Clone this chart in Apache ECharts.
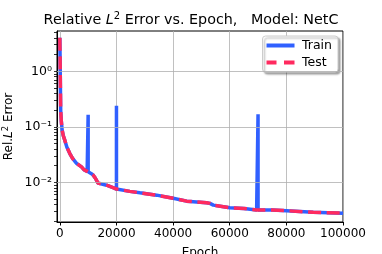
<!DOCTYPE html>
<html><head><meta charset="utf-8">
<script src="https://cdn.jsdelivr.net/npm/echarts@6/dist/echarts.min.js"></script>
<style>html,body{margin:0;padding:0;background:#fff}#c{width:382px;height:254px}</style>
</head><body><div id="c"></div>
<script>
const epochs = [0,100,200,300,500,820,1200,1770,2500,3530,4500,5900,6470,7650,8500,9650,9990,10000,10010,11000,11800,12500,13500,16500,19000,19990,20000,20010,24700,28300,34200,40000,44800,51800,53000,54200,60000,65000,69500,69990,70000,70010,75000,80000,89500,100000];
const trainLoss = [4.0,1.6,0.55,0.2,0.13,0.087,0.07,0.057,0.043,0.033,0.027,0.022,0.021,0.019,0.017,0.0158,0.0155,0.165,0.0155,0.0145,0.0135,0.012,0.0097,0.0089,0.0080,0.0076,0.24,0.0076,0.0069,0.0065,0.0059,0.0052,0.0046,0.0043,0.0042,0.0039,0.0035,0.0034,0.0032,0.0032,0.168,0.0032,0.0032,0.0031,0.0029,0.0028];
const testLoss = [4.0,1.6,0.55,0.2,0.13,0.087,0.07,0.057,0.043,0.033,0.027,0.022,0.021,0.019,0.017,0.0158,0.0155,0.0155,0.0155,0.0145,0.0135,0.012,0.0097,0.0089,0.0080,0.0076,0.0076,0.0076,0.0069,0.0065,0.0059,0.0052,0.0046,0.0043,0.0042,0.0039,0.0035,0.0034,0.0032,0.0032,0.0032,0.0032,0.0032,0.0031,0.0029,0.0028];
const xTicks = [0,20000,40000,60000,80000,100000];
const yTicks = [0.01,0.1,1];
const yTickLabels = ['10\u207B\u00B2','10\u207B\u00B9','10\u2070'];
const yMinorTicks = [0.002,0.003,0.004,0.005,0.006,0.007,0.008,0.009,0.02,0.03,0.04,0.05,0.06,0.07,0.08,0.09,0.2,0.3,0.4,0.5,0.6,0.7,0.8,0.9,2,3,4,5];
const seriesNames = ['Train','Test'];

const FONT = 'DejaVu Sans';
const BLUE = '#3060ff', RED = '#ff2a5f';
const sup = {fontSize: 8.5, fontFamily: FONT, color:'#000', padding:[0,0,7,0]};
const chart = echarts.init(document.getElementById('c'), null, {renderer:'canvas'});
const yLabel = v => { const i = yTicks.findIndex(t => Math.abs(Math.log10(t) - Math.log10(v)) < 1e-6); return i >= 0 ? yTickLabels[i] : ''; };
chart.setOption({
  animation:false,
  title:{
    text:'Relative {i|L}{s|2} Error vs. Epoch,   Model: NetC',
    left:'center', top:6, padding:[5,0,5,18],
    textStyle:{fontFamily:FONT, fontSize:14.3, fontWeight:'normal', color:'#000',
      rich:{i:{fontFamily:FONT, fontSize:14.3, fontStyle:'italic', color:'#000'}, s:{fontSize:10, fontFamily:FONT, color:'#000', padding:[0,0,8,0]}}}
  },
  grid:{left:57, right:39, top:31, bottom:32, containLabel:false, outerBoundsMode:'none', show:true, borderColor:'#000', borderWidth:1},
  legend:{
    orient:'vertical', right:44, top:36,
    data:[{name:seriesNames[0], icon:'path://M0,0H28V4H0Z', itemStyle:{color:BLUE}},
          {name:seriesNames[1], icon:'path://M0,0H10V4H0Z M17.5,0H28V4H17.5Z', itemStyle:{color:RED}}],
    itemWidth:29, itemHeight:4, itemGap:4, padding:[3,6,3,4],
    backgroundColor:'#fff', borderColor:'#ccc', borderWidth:1, borderRadius:3,
    shadowColor:'rgba(0,0,0,0.35)', shadowBlur:2, shadowOffsetX:2, shadowOffsetY:2,
    textStyle:{fontFamily:FONT, fontSize:12.5, color:'#000', padding:[0,0,0,2]}
  },
  xAxis:{
    type:'value', min:-1000, max:100000,
    name:'Epoch', nameLocation:'middle', nameGap:25, nameMoveOverlap:false,
    nameTextStyle:{fontFamily:FONT, fontSize:12, color:'#000'},
    axisLine:{show:true, onZero:false, lineStyle:{color:'#000'}},
    axisTick:{show:true, inside:false, length:3.5, customValues:xTicks, lineStyle:{color:'#000'}},
    axisLabel:{customValues:xTicks, formatter:v=>String(v), fontFamily:FONT, fontSize:12, color:'#000', margin:6, showMinLabel:true, showMaxLabel:true},
    splitLine:{show:true, lineStyle:{color:'#b0b0b0', width:0.8}}
  },
  yAxis:{
    type:'log', min:0.00194, max:5.3, logBase:10,
    name:'Rel.{i|L}{s|2} Error', nameLocation:'middle', nameGap:40, nameRotate:90, nameMoveOverlap:false,
    nameTextStyle:{fontFamily:FONT, fontSize:12, color:'#000',
      rich:{i:{fontFamily:FONT, fontSize:12, fontStyle:'italic', color:'#000'}, s:sup}},
    axisLine:{show:true, onZero:false, lineStyle:{color:'#000'}},
    axisTick:{show:true, length:3, customValues:yTicks.concat(yMinorTicks), lineStyle:{color:'#000', width:0.8}},
    axisLabel:{customValues:yTicks, formatter:yLabel, margin:5, color:'#000', fontFamily:FONT, fontSize:12.5,
      width:30, overflow:'none', align:'right'},
    splitLine:{show:false}
  },
  series:[{
    name:seriesNames[0], type:'line', showSymbol:false, symbol:'none',
    data:epochs.map((e,i)=>[e,trainLoss[i]]),
    lineStyle:{color:BLUE, width:3.5}, itemStyle:{color:BLUE}, z:2,
    markLine:{silent:true, symbol:'none', label:{show:false}, animation:false,
      lineStyle:{color:'#b0b0b0', width:0.8, type:'solid'},
      data:yTicks.map(t=>({yAxis:t}))}
  },{
    name:seriesNames[1], type:'line', showSymbol:false, symbol:'none',
    data:epochs.map((e,i)=>[e,testLoss[i]]),
    lineStyle:{color:RED, width:3.5, type:[13,5.6]}, itemStyle:{color:RED}, z:3
  }]
});
</script></body></html>
